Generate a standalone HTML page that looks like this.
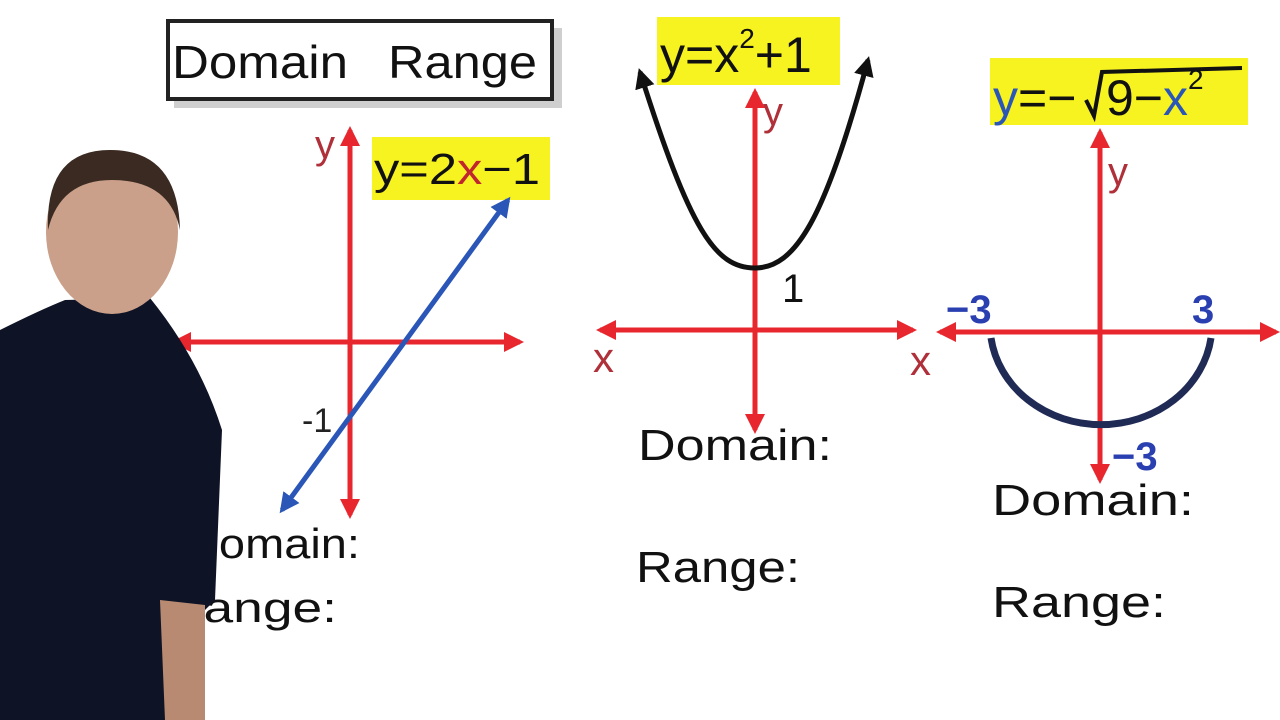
<!DOCTYPE html>
<html><head><meta charset="utf-8"><style>
html,body{margin:0;padding:0;background:#fff;}
svg{display:block;}
text{font-family:"Liberation Sans",sans-serif;}
</style></head><body>
<svg width="1280" height="720" viewBox="0 0 1280 720" xmlns="http://www.w3.org/2000/svg">
<defs>
<marker id="ar" viewBox="0 0 10 10" refX="8" refY="5" markerWidth="4" markerHeight="4" orient="auto-start-reverse"><path d="M0,0 L10,5 L0,10 z" fill="#e8262e"/></marker>
<marker id="ab" viewBox="0 0 10 10" refX="8" refY="5" markerWidth="4" markerHeight="4" orient="auto-start-reverse"><path d="M0,0 L10,5 L0,10 z" fill="#2a56b8"/></marker>
<marker id="ak" viewBox="0 0 10 10" refX="8" refY="5" markerWidth="4" markerHeight="4" orient="auto-start-reverse"><path d="M0,0 L10,5 L0,10 z" fill="#111"/></marker>
</defs>
<rect width="1280" height="720" fill="#fff"/>
<!-- title -->
<rect x="174" y="28" width="388" height="80" fill="#cfcfcf"/>
<rect x="168" y="21" width="384" height="78" fill="#fff" stroke="#222" stroke-width="4"/>
<text x="172" y="78" font-size="46" fill="#111" textLength="176" lengthAdjust="spacingAndGlyphs">Domain</text>
<text x="388" y="78" font-size="46" fill="#111" textLength="149" lengthAdjust="spacingAndGlyphs">Range</text>

<!-- graph 1 -->
<line x1="350" y1="515" x2="350" y2="130" stroke="#e8262e" stroke-width="5" marker-start="url(#ar)" marker-end="url(#ar)"/>
<line x1="175" y1="342" x2="520" y2="342" stroke="#e8262e" stroke-width="5" marker-start="url(#ar)" marker-end="url(#ar)"/>
<text x="315" y="158" font-size="40" fill="#b0303a">y</text>
<rect x="372" y="137" width="178" height="63" fill="#f7f321"/>
<text x="374" y="184" font-size="44" fill="#111" textLength="166" lengthAdjust="spacingAndGlyphs">y=2<tspan fill="#c0262e">x</tspan>−1</text>
<line x1="508" y1="200" x2="282" y2="510" stroke="#2a56b8" stroke-width="5" marker-start="url(#ab)" marker-end="url(#ab)"/>
<text x="302" y="432" font-size="34" fill="#222">-1</text>
<text x="185" y="558" font-size="42" fill="#111" textLength="175" lengthAdjust="spacingAndGlyphs">Domain:</text>
<text x="165" y="622" font-size="42" fill="#111" textLength="172" lengthAdjust="spacingAndGlyphs">Range:</text>

<!-- person -->
<path d="M0,330 Q40,310 65,300 L150,298 Q200,360 222,430 L215,600 L205,610 L205,720 L0,720 Z" fill="#0e1426"/>
<path d="M160,600 L205,605 L205,720 L165,720 Z" fill="#b98a72"/>
<ellipse cx="112" cy="232" rx="66" ry="82" fill="#caa08a"/>
<path d="M48,230 Q45,150 110,150 Q178,150 180,230 Q170,180 112,180 Q60,180 48,230 Z" fill="#3a2a22"/>

<!-- graph 2 -->
<line x1="755" y1="430" x2="755" y2="92" stroke="#e8262e" stroke-width="5" marker-start="url(#ar)" marker-end="url(#ar)"/>
<line x1="600" y1="330" x2="913" y2="330" stroke="#e8262e" stroke-width="5" marker-start="url(#ar)" marker-end="url(#ar)"/>
<path d="M640,72 C690,230 715,268 755,268 C795,268 825,220 868,60" fill="none" stroke="#111" stroke-width="5" marker-start="url(#ak)" marker-end="url(#ak)"/>
<rect x="657" y="17" width="183" height="68" fill="#f7f321"/>
<text x="660" y="72" font-size="50" fill="#111">y=x<tspan font-size="28" dy="-24">2</tspan><tspan dy="24">+1</tspan></text>
<text x="763" y="125" font-size="40" fill="#b0303a">y</text>
<text x="782" y="302" font-size="40" fill="#111">1</text>
<text x="593" y="372" font-size="42" fill="#b0303a">x</text>
<text x="910" y="375" font-size="42" fill="#b0303a">x</text>
<text x="638" y="460" font-size="44" fill="#111" textLength="194" lengthAdjust="spacingAndGlyphs">Domain:</text>
<text x="636" y="582" font-size="44" fill="#111" textLength="164" lengthAdjust="spacingAndGlyphs">Range:</text>

<!-- graph 3 -->
<line x1="1100" y1="480" x2="1100" y2="132" stroke="#e8262e" stroke-width="5" marker-start="url(#ar)" marker-end="url(#ar)"/>
<line x1="940" y1="332" x2="1276" y2="332" stroke="#e8262e" stroke-width="5" marker-start="url(#ar)" marker-end="url(#ar)"/>
<path d="M991,338 A111,100 0 0 0 1211,338" fill="none" stroke="#1f2a55" stroke-width="7"/>
<rect x="990" y="58" width="258" height="67" fill="#f7f321"/>
<text x="993" y="115" font-size="50" fill="#2a56b8">y<tspan fill="#111">=−</tspan></text>
<path d="M1086,100 L1094,116 L1102,72 L1242,68" fill="none" stroke="#111" stroke-width="4"/>
<text x="1106" y="115" font-size="50" fill="#111">9−<tspan fill="#2a56b8">x</tspan><tspan font-size="28" dy="-26">2</tspan></text>
<text x="1108" y="185" font-size="40" fill="#b0303a">y</text>
<text x="946" y="323" font-size="40" fill="#2a3fb0" font-weight="bold">−3</text>
<text x="1192" y="323" font-size="40" fill="#2a3fb0" font-weight="bold">3</text>
<text x="1112" y="470" font-size="40" fill="#2a3fb0" font-weight="bold">−3</text>
<text x="992" y="515" font-size="44" fill="#111" textLength="202" lengthAdjust="spacingAndGlyphs">Domain:</text>
<text x="992" y="617" font-size="44" fill="#111" textLength="174" lengthAdjust="spacingAndGlyphs">Range:</text>
</svg>
</body></html>
